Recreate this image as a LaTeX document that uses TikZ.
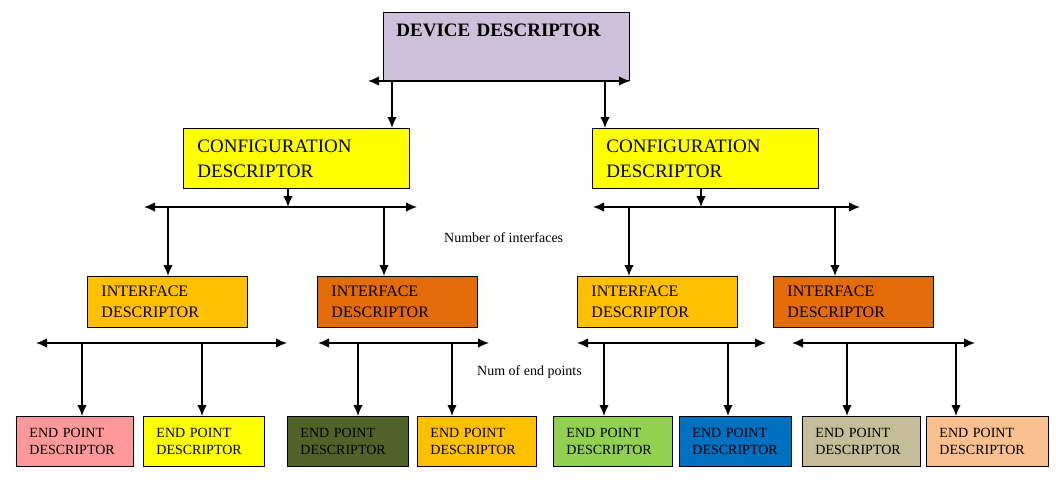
\documentclass[tikz,border=0pt]{standalone}
\usepackage{fontspec}
\setmainfont{Liberation Serif}
\definecolor{DevLilac}{RGB}{204,192,218}
\definecolor{CfgYellow}{RGB}{255,255,0}
\definecolor{IfGold}{RGB}{255,192,0}
\definecolor{IfOrange}{RGB}{227,108,9}
\definecolor{EpPink}{RGB}{255,153,153}
\definecolor{EpOlive}{RGB}{79,98,40}
\definecolor{EpGreen}{RGB}{146,208,80}
\definecolor{EpBlue}{RGB}{0,112,192}
\definecolor{EpTan}{RGB}{196,189,151}
\definecolor{EpPeach}{RGB}{250,192,144}
\usetikzlibrary{positioning,arrows.meta}
\tikzset{>={Latex[length=11pt,width=9.5pt]}}

\begin{document}
\begin{tikzpicture}[x=1pt, y=-1pt,
        descbox/.style={draw, line width=.9pt, rectangle, anchor=north west, inner ysep=0pt, align=left},
        cfgdesc/.style={descbox, fill=CfgYellow, inner xsep=14pt, text width=198pt, minimum height=60pt, font=\fontsize{19}{25}\selectfont},
        ifdesc/.style={descbox, inner xsep=14pt, text width=132pt, minimum height=51pt, font=\fontsize{16}{21}\selectfont},
        epdesc/.style={descbox, inner xsep=13pt, minimum height=50pt, font=\fontsize{14}{17}\selectfont},
        bus/.style={<->, line width=1.4pt},
        drop/.style={->, line width=1.4pt}]
            \useasboundingbox (0,0) rectangle (1056,496);

            % descriptor boxes
            \node[descbox, fill=DevLilac, inner xsep=13pt, text width=220pt, text height=24.5pt, text depth=43.5pt,
                font=\fontsize{19}{22}\selectfont\bfseries] (dev) at (383,12) {DEVICE DESCRIPTOR};
            \node[cfgdesc] (cfgL) at (183,128) {CONFIGURATION\\DESCRIPTOR};
            \node[cfgdesc] (cfgR) at (592,128) {CONFIGURATION\\DESCRIPTOR};
            \foreach \n/\x/\c in {ifA/87/IfGold, ifB/317/IfOrange, ifC/577/IfGold, ifD/773/IfOrange}{
                \node[ifdesc, fill=\c] (\n) at (\x,276) {INTERFACE\\DESCRIPTOR};
            }
            \foreach \n/\x/\tw/\c in {ep1/16/91/EpPink, ep2/143/95/CfgYellow, ep3/287/95/EpOlive, ep4/417/93/IfGold,
                                     ep5/553/93/EpGreen, ep6/679/86/EpBlue, ep7/802/92/EpTan, ep8/926/96/EpPeach}{
                \node[epdesc, fill=\c, text width=\tw pt] (\n) at (\x,416) {END POINT\\DESCRIPTOR};
            }

            % buses
            \foreach \n/\a/\b/\y in {devbus/368/630/81, cbA/144/417/207, cbB/593/860/207,
                                     ibA/36/287/343, ibB/318/489/343, ibC/577/766/343, ibD/792/975/343}{
                \coordinate (\n-w) at (\a,\y);
                \coordinate (\n-e) at (\b,\y);
                \draw[bus] (\n-w) -- (\n-e);
            }
            \draw[drop] (cfgL.south -| 288,0) -- (cbA-w -| 288,0);
            \draw[drop] (cfgR.south -| 701,0) -- (cbB-w -| 701,0);

            % drops to the boxes below
            \foreach \b/\x/\t in {devbus/392/cfgL, devbus/605/cfgR, cbA/168/ifA, cbA/384/ifB, cbB/629/ifC, cbB/835/ifD,
                                 ibA/82/ep1, ibA/202/ep2, ibB/358/ep3, ibB/452/ep4,
                                 ibC/604/ep5, ibC/728/ep6, ibD/847/ep7, ibD/956/ep8}{
                \draw[drop] (\b-w -| \x,0) -- (\t.north -| \x,0);
            }

            \node[anchor=base west, inner sep=0pt, font=\fontsize{14}{16}\selectfont] (nifs) at (444,242) {Number of interfaces};
            \node[anchor=base west, inner sep=0pt, font=\fontsize{14}{16}\selectfont] (neps) at (477,375) {Num of end points};
        \end{tikzpicture}
\end{document}
